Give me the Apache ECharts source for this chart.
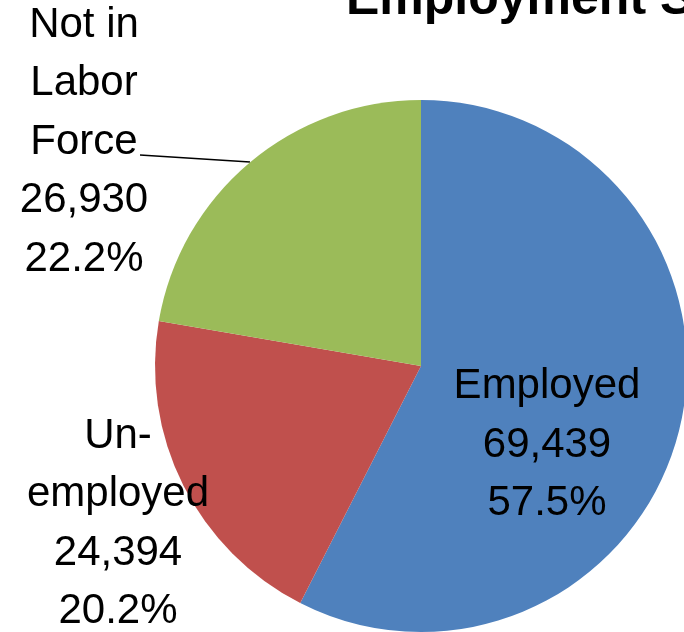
<!DOCTYPE html>
<html>
<head>
<meta charset="utf-8">
<script src="https://cdn.jsdelivr.net/npm/echarts@6/dist/echarts.min.js"></script>
<style>
  html, body { margin: 0; padding: 0; background: #fff; }
  #chart { width: 684px; height: 632px; }
</style>
</head>
<body>
<div id="chart"></div>
<script>
// 数据
const categories = ["Employed", "Un-\nemployed", "Not in\nLabor\nForce"];
const counts = [69439, 24394, 26930];
const percentLabels = ["57.5%", "20.2%", "22.2%"];
const colors = ["#4F81BD", "#C0504D", "#9BBB59"];

// 标签中心位置（像素）
const labelSpots = [
  { x: 547, y: 445 },
  { x: 118, y: 524 },
  { x: 84, y: 142 }
];

const chart = echarts.init(document.getElementById("chart"), null, { renderer: "canvas" });

const pieData = categories.map((name, i) => ({
  name,
  value: counts[i],
  itemStyle: { color: colors[i] },
  labelLine: { show: i === 2 }
}));

const option = {
  animation: false,
  title: {
    text: "Employment Status",
    left: 341,
    top: -30,
    textStyle: {
      fontFamily: "Liberation Sans",
      fontWeight: "bold",
      fontSize: 50,
      lineHeight: 50,
      color: "#000"
    }
  },
  series: [
    {
      type: "pie",
      center: [421, 366],
      radius: [0, 266],
      startAngle: 90,
      clockwise: true,
      avoidLabelOverlap: false,
      itemStyle: { borderWidth: 0 },
      label: {
        show: true,
        position: "outside",
        color: "#000",
        fontFamily: "Liberation Sans",
        fontSize: 42,
        lineHeight: 58.5,
        align: "center",
        formatter: p =>
          p.name + "\n" + p.value.toLocaleString("en-US") + "\n" + percentLabels[p.dataIndex]
      },
      labelLine: {
        show: true,
        lineStyle: { color: "#000", width: 1.5 }
      },
      labelLayout: params => {
        const spot = labelSpots[params.dataIndex];
        const out = {
          x: spot.x,
          y: spot.y,
          align: "center",
          verticalAlign: "middle"
        };
        if (params.dataIndex === 2) {
          out.labelLinePoints = [[250, 162], [140, 155], [140, 155]];
        }
        return out;
      },
      data: pieData
    }
  ]
};

chart.setOption(option);
</script>
</body>
</html>
